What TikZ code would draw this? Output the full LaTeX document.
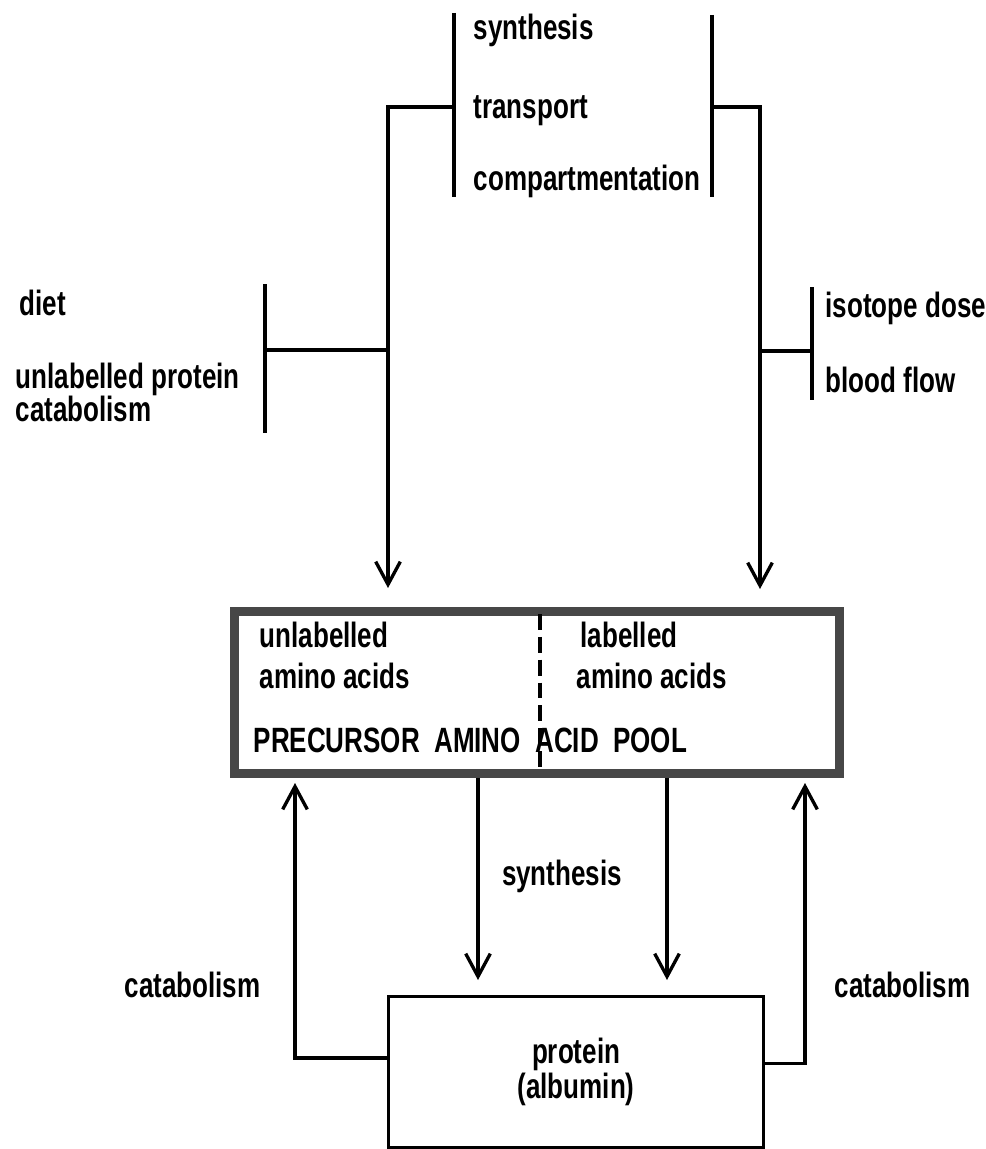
\documentclass[tikz,border=0pt]{standalone}
\usepackage{fontspec}
\setmainfont{Liberation Sans}[FakeStretch=0.74]
\usetikzlibrary{positioning,arrows.meta}

\begin{document}
\begin{tikzpicture}[x=0.02cm, y=-0.02cm, line width=1.9pt,
    lbl/.style={inner sep=0pt, anchor=base west, font=\fontsize{20}{19}\bfseries},
    flow/.style={-{Straight Barb[length=13pt,width=14pt]}},
    pool/.style={draw=black!72, line width=5pt, minimum width=12.1cm, minimum height=3.24cm, anchor=north west},
    prot/.style={draw, minimum width=7.5cm, minimum height=3.02cm, anchor=north west, align=center,
      font=\fontsize{20}{15}\bfseries}]
  \useasboundingbox (0,0) rectangle (986,1149);

  % factors at the top
  \node[lbl] (syn) at (472,40) {synthesis};
  \node[lbl] (trans) at (472,118) {transport};
  \node[lbl] (comp) at (472,190) {compartmentation};
  \coordinate (tl) at (454,13);
  \coordinate (bl) at (454,197);
  \coordinate (ml) at (454,107);
  \coordinate (tr) at (712,15);
  \coordinate (br) at (712,197);
  \coordinate (mr) at (712,107);
  \draw (tl) -- (bl);
  \draw (tr) -- (br);

  % factors at the sides
  \node[lbl] (diet) at (18,315) {diet};
  \node[lbl, align=left, anchor=north west] (upc) at (14,361) {unlabelled protein\\catabolism};
  \coordinate (dt) at (265,284);
  \coordinate (db) at (265,433);
  \draw (dt) -- (db);
  \node[lbl] (iso) at (824,317) {isotope dose};
  \node[lbl] (blood) at (824,392) {blood flow};
  \coordinate (it) at (812,287);
  \coordinate (ib) at (812,400);
  \draw (it) -- (ib);

  % pool
  \node[pool] (pool) at (230,607) {};
  \node[lbl] (unl) at (258,647) {unlabelled};
  \node[lbl] (unla) at (258,688) {amino acids};
  \node[lbl] (lab) at (579,647) {labelled};
  \node[lbl] (laba) at (575,688) {amino acids};
  \node[lbl] (pname) at (252,752) {PRECURSOR\ \ AMINO\ \ ACID\ \ POOL};
  \coordinate (dtop) at (540,614);
  \coordinate (dbot) at (540,770);
  \draw[dash pattern=on 9pt off 4pt, line width=1.8pt] (dtop) -- (dbot);

  % inputs into the pool
  \coordinate (ua) at (388,588);
  \coordinate (la) at (760,589);
  \coordinate (uj) at (388,350);
  \coordinate (lj) at (760,351);
  \draw[flow] (ml) -| (ua);
  \draw[flow] (mr) -| (la);
  \draw (dt |- uj) -- (uj);
  \draw (lj) -- (it |- lj);

  % protein
  \node[prot] (prot) at (387,995) {protein\\(albumin)};
  \coordinate (s1) at (478,980);
  \coordinate (s2) at (667,980);
  \draw[flow] (s1 |- pool.south) -- (s1);
  \draw[flow] (s2 |- pool.south) -- (s2);
  \node[lbl, anchor=base] (synb) at (562,885) {synthesis};

  \coordinate (c1) at (295,783);
  \coordinate (c2) at (805,783);
  \draw[flow] ([yshift=8pt]prot.west) -| (c1);
  \draw[flow] ([yshift=5pt]prot.east) -| (c2);
  \node[lbl] (cat1) at (123,997) {catabolism};
  \node[lbl] (cat2) at (833,997) {catabolism};
\end{tikzpicture}
\end{document}
